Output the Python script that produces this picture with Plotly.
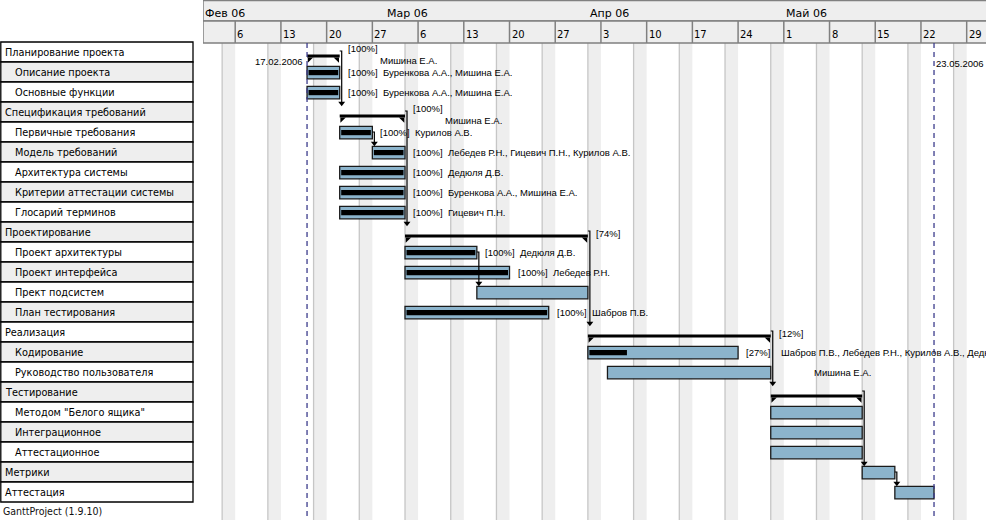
import plotly.graph_objects as go
from datetime import datetime, timedelta

# ---------------- data ----------------
task_names = [
    "Планирование проекта", "Описание проекта", "Основные функции",
    "Спецификация требований", "Первичные требования", "Модель требований",
    "Архитектура системы", "Критерии аттестации системы", "Глосарий терминов",
    "Проектирование", "Проект архитектуры", "Проект интерфейса", "Прект подсистем",
    "План тестирования", "Реализация", "Кодирование", "Руководство пользователя",
    "Тестирование", "Методом \"Белого ящика\"", "Интеграционное", "Аттестационное",
    "Метрики", "Аттестация",
]
indent = [0, 1, 1, 0, 1, 1, 1, 1, 1, 0, 1, 1, 1, 1, 0, 1, 1, 0, 1, 1, 1, 0, 0]
is_summary = [True, False, False, True, False, False, False, False, False,
              True, False, False, False, False, True, False, False,
              True, False, False, False, False, False]
starts = ["2006-02-17", "2006-02-17", "2006-02-17",
          "2006-02-22", "2006-02-22", "2006-02-27", "2006-02-22", "2006-02-22", "2006-02-22",
          "2006-03-04", "2006-03-04", "2006-03-04", "2006-03-15", "2006-03-04",
          "2006-04-01", "2006-04-01", "2006-04-04",
          "2006-04-29", "2006-04-29", "2006-04-29", "2006-04-29",
          "2006-05-13", "2006-05-18"]
ends = ["2006-02-22", "2006-02-22", "2006-02-22",
        "2006-03-04", "2006-02-27", "2006-03-04", "2006-03-04", "2006-03-04", "2006-03-04",
        "2006-04-01", "2006-03-15", "2006-03-20", "2006-04-01", "2006-03-26",
        "2006-04-29", "2006-04-24", "2006-04-29",
        "2006-05-13", "2006-05-13", "2006-05-13", "2006-05-13",
        "2006-05-18", "2006-05-24"]
progress = [100, 100, 100, 100, 100, 100, 100, 100, 100, 74, 100, 100, 0, 100,
            12, 27, 0, 0, 0, 0, 0, 0, 0]
resources = ["Мишина Е.А.", "Буренкова А.А., Мишина Е.А.", "Буренкова А.А., Мишина Е.А.",
             "Мишина Е.А.", "Курилов А.В.", "Лебедев Р.Н., Гицевич П.Н., Курилов А.В.",
             "Дедюля Д.В.", "Буренкова А.А., Мишина Е.А.", "Гицевич П.Н.",
             "", "Дедюля Д.В.", "Лебедев Р.Н.", "", "Шабров П.В.",
             "", "Шабров П.В., Лебедев Р.Н., Курилов А.В., Дедюля Д.В.", "Мишина Е.А.",
             "", "", "", "", "", ""]
dependencies = [(0, 3), (4, 5), (3, 9), (10, 12), (9, 14), (14, 17), (17, 21), (21, 22)]

month_labels = ["Фев 06", "Мар 06", "Апр 06", "Май 06"]
month_starts = ["2006-02-01", "2006-03-01", "2006-04-01", "2006-05-01"]
week_labels = ["6", "13", "20", "27", "6", "13", "20", "27", "3", "10", "17", "24",
               "1", "8", "15", "22", "29"]
first_monday = "2006-02-06"
project_start = "2006-02-17"
project_start_label = "17.02.2006"
project_end = "2006-05-24"
project_end_label = "23.05.2006"
footer = "GanttProject (1.9.10)"

# ---------------- styling / layout constants ----------------
W, H = 986, 520
CHART_LEFT = 203
TABLE_RIGHT = 193
view_start = datetime(2006, 2, 1, 1, 40)
view_end = datetime(2006, 5, 31, 23, 0)
px_per_day = (W - CHART_LEFT) / ((view_end - view_start).total_seconds() / 86400)
Y_TOP, Y_BOT = -2.6, 23.4          # row units (20 px each)
HDR_MID, HDR_BOT = -1.55, -0.45

BAR_FILL = "#8cb4cc"
GRID_BAND = "#eeeeee"
SAT_LINE = "#c6c6c6"
HDR_FILL = "#eeeeee"
HDR_LINE = "#808080"
DASH_COL = "#3c3c8c"
FONT_TABLE = dict(family="DejaVu Sans Condensed, DejaVu Sans", size=10.8, color="black")
FONT_LABEL = dict(family="Liberation Sans", size=9.5, color="black")


def D(s):
    return datetime.strptime(s, "%Y-%m-%d")


def px_days(px):
    return timedelta(days=px / px_per_day)


fig = go.Figure()
shapes = []
annotations = []

# ---------- calendar background (weekends) ----------
d = view_start.replace(hour=0, minute=0) - timedelta(days=7)
while d < view_end:
    if d.weekday() == 5:
        shapes.append(dict(type="rect", xref="x", yref="y", x0=d, x1=d + timedelta(days=2),
                           y0=HDR_BOT, y1=Y_BOT, fillcolor=GRID_BAND, line_width=0, layer="below"))
        shapes.append(dict(type="line", xref="x", yref="y", x0=d, x1=d,
                           y0=HDR_BOT, y1=Y_BOT, line=dict(color=SAT_LINE, width=1.3), layer="below"))
    d += timedelta(days=1)

# ---------- header ----------
shapes.append(dict(type="rect", xref="x", yref="y", x0=view_start, x1=view_end + timedelta(days=2),
                   y0=Y_TOP + 0.03, y1=HDR_MID, fillcolor=HDR_FILL, line=dict(color=HDR_LINE, width=1.5)))
shapes.append(dict(type="rect", xref="x", yref="y", x0=view_start, x1=view_end + timedelta(days=2),
                   y0=HDR_MID, y1=HDR_BOT, fillcolor=HDR_FILL, line=dict(color=HDR_LINE, width=1.5)))
for lab, ms in zip(month_labels, month_starts):
    annotations.append(dict(xref="x", yref="y", x=max(D(ms), view_start), y=-1.93, text=lab,
                            showarrow=False, xanchor="left", yanchor="middle", xshift=0,
                            font=dict(family="DejaVu Sans", size=11, color="black")))
monday = D(first_monday)
for i, lab in enumerate(week_labels):
    wd = monday + timedelta(days=7 * i)
    shapes.append(dict(type="line", xref="x", yref="y", x0=wd, x1=wd, y0=HDR_MID, y1=HDR_BOT,
                       line=dict(color=HDR_LINE, width=1.5)))
    annotations.append(dict(xref="x", yref="y", x=wd, y=-0.87, text=lab, showarrow=False,
                            xanchor="left", yanchor="middle", xshift=0,
                            font=dict(family="DejaVu Sans", size=10, color="black")))

# ---------- project boundaries ----------
for dt, lab, anchor, shift, yy in [(project_start, project_start_label, "right", -2, 0.47),
                                    (project_end, project_end_label, "left", 0, 0.55)]:
    shapes.append(dict(type="line", xref="x", yref="y", x0=D(dt), x1=D(dt), y0=HDR_BOT, y1=Y_BOT,
                       line=dict(color=DASH_COL, width=1.3, dash="5px,4px")))
    annotations.append(dict(xref="x", yref="y", x=D(dt), y=yy, text=lab, showarrow=False,
                            xanchor=anchor, yanchor="middle", xshift=shift, font=FONT_LABEL))

# ---------- left task table ----------
n = len(task_names)
for i, name in enumerate(task_names):
    shapes.append(dict(type="rect", xref="x2", yref="y", x0=0.8, x1=TABLE_RIGHT, y0=i - 0.5, y1=i + 0.5,
                       fillcolor="white" if i % 2 == 0 else "#eeeeee",
                       line=dict(color="black", width=1.3)))
    annotations.append(dict(xref="x2", yref="y", x=3 + 10 * indent[i], y=i, text=name,
                            showarrow=False, xanchor="left", yanchor="middle", font=FONT_TABLE))
annotations.append(dict(xref="x2", yref="y", x=1, y=22.95, text=footer, showarrow=False,
                        xanchor="left", yanchor="middle",
                        font=dict(family="DejaVu Sans Condensed, DejaVu Sans", size=10.5, color="#111")))

# ---------- task bars ----------
bar_rows = [i for i in range(n) if not is_summary[i]]
fig.add_trace(go.Bar(
    orientation="h", y=[i + 0.03 for i in bar_rows],
    base=[D(starts[i]) for i in bar_rows],
    x=[(D(ends[i]) - D(starts[i])).total_seconds() * 1000 for i in bar_rows],
    width=0.62, marker=dict(color=BAR_FILL, line=dict(color="#1a1a1a", width=1.3)),
    hoverinfo="skip", showlegend=False))
prog_rows = [i for i in bar_rows if progress[i] > 0]
fig.add_trace(go.Bar(
    orientation="h", y=[i + 0.03 for i in prog_rows],
    base=[D(starts[i]) + px_days(1.5) for i in prog_rows],
    x=[((D(ends[i]) - D(starts[i])).total_seconds() * progress[i] / 100
        - px_days(3).total_seconds()) * 1000 for i in prog_rows],
    width=0.26, marker=dict(color="black", line=dict(width=0)),
    hoverinfo="skip", showlegend=False))

# ---------- summary brackets ----------
sx, sy, lx, ly, rx, ry = [], [], [], [], [], []
for i in range(n):
    if is_summary[i]:
        sx += [D(starts[i]), D(ends[i]), None]
        sy += [i + 0.2, i + 0.2, None]
        lx.append(D(starts[i]) + px_days(2.5)); ly.append(i + 0.36)
        rx.append(D(ends[i]) - px_days(2.5)); ry.append(i + 0.36)
fig.add_trace(go.Scatter(x=sx, y=sy, mode="lines", line=dict(color="black", width=3),
                         hoverinfo="skip", showlegend=False))
fig.add_trace(go.Scatter(x=lx, y=ly, mode="markers",
                         marker=dict(symbol="triangle-nw", size=6, color="black"),
                         hoverinfo="skip", showlegend=False))
fig.add_trace(go.Scatter(x=rx, y=ry, mode="markers",
                         marker=dict(symbol="triangle-ne", size=6, color="black"),
                         hoverinfo="skip", showlegend=False))

# ---------- dependency connectors ----------
cx, cy, ax, ay = [], [], [], []
for a, b in dependencies:
    e = D(ends[a])
    ya = a - 0.05 if is_summary[a] else a
    xv = e + px_days(2)
    cx += [e, xv, xv, None]
    cy += [ya, ya, b - 0.4, None]
    ax.append(xv); ay.append(b - 0.44)
fig.add_trace(go.Scatter(x=cx, y=cy, mode="lines", line=dict(color="black", width=1.2),
                         hoverinfo="skip", showlegend=False))
fig.add_trace(go.Scatter(x=ax, y=ay, mode="markers",
                         marker=dict(symbol="triangle-down", size=6, color="black"),
                         hoverinfo="skip", showlegend=False))

# ---------- bar labels ----------
for i in range(n):
    e = D(ends[i])
    if is_summary[i]:
        if progress[i] > 0:
            py = i - 0.2 if resources[i] else i + 0.05
            annotations.append(dict(xref="x", yref="y", x=e, y=py, text=f"[{progress[i]}%]",
                                    showarrow=False, xanchor="left", yanchor="middle",
                                    xshift=6, font=FONT_LABEL))
        if resources[i]:
            annotations.append(dict(xref="x", yref="y", x=e, y=i + 0.4, text=resources[i],
                                    showarrow=False, xanchor="left", yanchor="middle",
                                    xshift=38, font=FONT_LABEL))
    else:
        if progress[i] > 0:
            annotations.append(dict(xref="x", yref="y", x=e, y=i, text=f"[{progress[i]}%]",
                                    showarrow=False, xanchor="left", yanchor="middle",
                                    xshift=6, font=FONT_LABEL))
        if resources[i]:
            annotations.append(dict(xref="x", yref="y", x=e, y=i, text=resources[i],
                                    showarrow=False, xanchor="left", yanchor="middle",
                                    xshift=41, font=FONT_LABEL))

# dummy trace to create the table subplot
fig.add_trace(go.Scatter(x=[0], y=[0], xaxis="x2", yaxis="y", mode="markers",
                         marker=dict(opacity=0), hoverinfo="skip", showlegend=False))

fig.update_layout(
    width=W, height=H, autosize=False,
    margin=dict(l=0, r=0, t=0, b=0),
    paper_bgcolor="white", plot_bgcolor="white",
    barmode="overlay", showlegend=False,
    xaxis=dict(type="date", range=[view_start, view_end], domain=[CHART_LEFT / W, 1],
               visible=False, fixedrange=True, anchor="y"),
    xaxis2=dict(range=[0, CHART_LEFT], domain=[0, CHART_LEFT / W], visible=False,
                fixedrange=True, anchor="y"),
    yaxis=dict(range=[Y_BOT, Y_TOP], domain=[0, 1], visible=False, fixedrange=True, anchor="x"),
    shapes=shapes, annotations=annotations,
)

fig.write_html("out.html", config={"displayModeBar": False},
               post_script="document.body.style.margin='0px';document.body.style.overflow='hidden';")
